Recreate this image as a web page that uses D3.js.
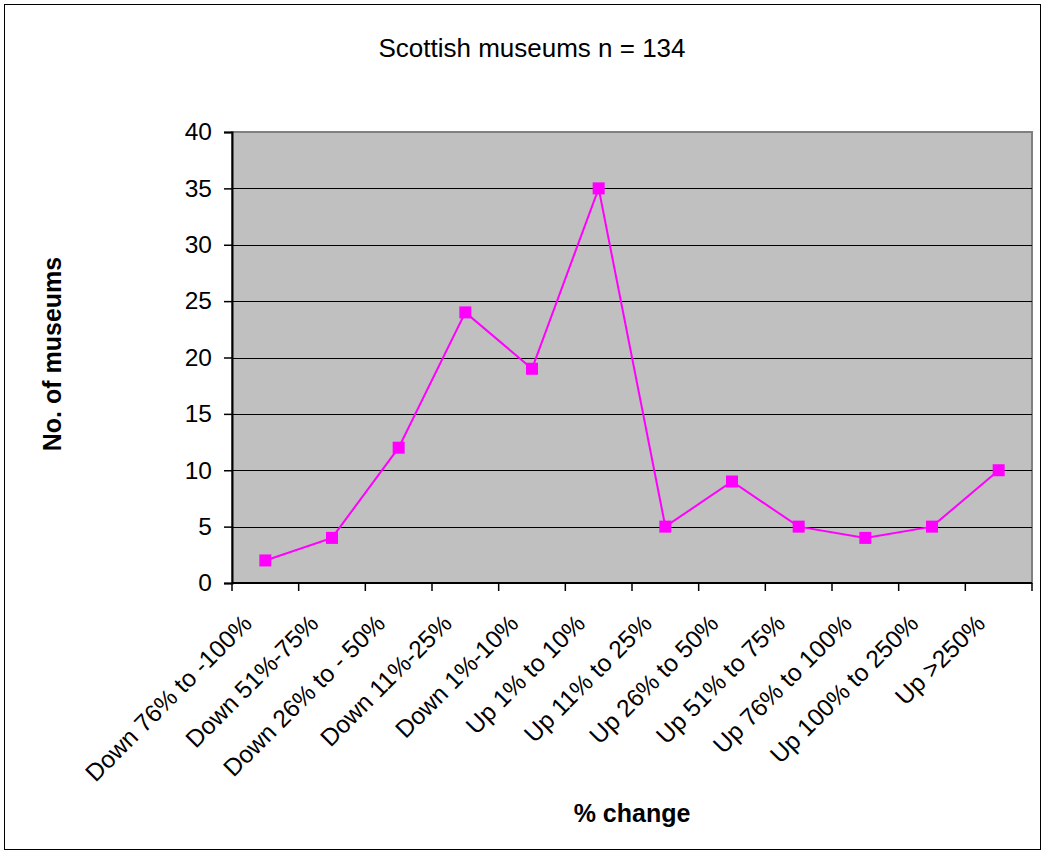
<!DOCTYPE html>
<html>
<head>
<meta charset="utf-8">
<script src="https://cdn.jsdelivr.net/npm/d3@7"></script>
<style>
  body { margin: 0; background: #fff; }
  text { font-family: "Liberation Sans", Arial, sans-serif; }
</style>
</head>
<body>
<svg id="chart" width="1045" height="854"></svg>
<script>
// Change in visitor numbers, grouped by band
const categories = [
  "Down 76% to -100%", "Down 51%-75%", "Down 26% to - 50%", "Down 11%-25%",
  "Down 1%-10%", "Up 1% to 10%", "Up 11% to 25%", "Up 26% to 50%",
  "Up 51% to 75%", "Up 76% to 100%", "Up 100% to 250%", "Up >250%"
];
const museums = [2, 4, 12, 24, 19, 35, 5, 9, 5, 4, 5, 10];
const yTicks = [0, 5, 10, 15, 20, 25, 30, 35, 40];

const svg = d3.select("#chart");
const W = 1045, H = 854;
const plot = { left: 232, top: 132, right: 1032, bottom: 583 };

// outer frame
svg.append("rect")
  .attr("x", 4.5).attr("y", 4.5)
  .attr("width", W - 9).attr("height", H - 9)
  .attr("fill", "#fff").attr("stroke", "#000").attr("stroke-width", 1);

const x = d3.scaleBand().domain(categories).range([plot.left, plot.right]);
const y = d3.scaleLinear().domain([0, 40]).range([plot.bottom, plot.top]);

// plot area
svg.append("rect")
  .attr("x", plot.left).attr("y", plot.top)
  .attr("width", plot.right - plot.left).attr("height", plot.bottom - plot.top)
  .attr("fill", "#c0c0c0").attr("stroke", "#808080").attr("stroke-width", 2);

// gridlines
svg.append("g").selectAll("line")
  .data(yTicks.filter(d => d > 0 && d < 40))
  .join("line")
  .attr("x1", plot.left).attr("x2", plot.right)
  .attr("y1", d => Math.round(y(d)) + 0.5).attr("y2", d => Math.round(y(d)) + 0.5)
  .attr("stroke", "#000").attr("stroke-width", 1);

// y axis
const yAxis = svg.append("g")
  .attr("transform", `translate(${plot.left},0)`)
  .call(d3.axisLeft(y).tickValues(yTicks).tickSize(8).tickPadding(12));
yAxis.select(".domain").attr("stroke", "#000").attr("stroke-width", 2);
yAxis.selectAll(".tick line").attr("stroke", "#000").attr("stroke-width", 1.5);
yAxis.selectAll(".tick text")
  .attr("font-size", 24.5).attr("fill", "#000")
  .style("font-family", '"Liberation Sans", Arial, sans-serif');

// x axis: ticks on category boundaries
const xAxisG = svg.append("g").attr("transform", `translate(0,${plot.bottom})`);
xAxisG.append("line")
  .attr("x1", plot.left).attr("x2", plot.right)
  .attr("y1", 0).attr("y2", 0)
  .attr("stroke", "#000").attr("stroke-width", 2);
const bounds = categories.map(c => x(c)).concat([plot.right]);
xAxisG.selectAll("line.tk")
  .data(bounds)
  .join("line").attr("class", "tk")
  .attr("x1", d => d).attr("x2", d => d)
  .attr("y1", 0).attr("y2", 8)
  .attr("stroke", "#000").attr("stroke-width", 1.5);
xAxisG.selectAll("text")
  .data(categories)
  .join("text")
  .attr("transform", d => `translate(${x(d) + x.bandwidth() / 2 - 12},${42}) rotate(-45)`)
  .attr("text-anchor", "end")
  .attr("font-size", 24.5)
  .attr("fill", "#000")
  .text(d => d);

// series line and markers
const cx = d => x(d) + x.bandwidth() / 2;
const line = d3.line().x((d, i) => cx(categories[i])).y(d => y(d));
svg.append("path")
  .datum(museums)
  .attr("d", line)
  .attr("fill", "none")
  .attr("stroke", "#ff00ff")
  .attr("stroke-width", 2);
svg.append("g").selectAll("rect")
  .data(museums)
  .join("rect")
  .attr("x", (d, i) => cx(categories[i]) - 6)
  .attr("y", d => y(d) - 6)
  .attr("width", 12).attr("height", 12)
  .attr("fill", "#ff00ff");

// titles
svg.append("text")
  .attr("x", 532).attr("y", 57)
  .attr("text-anchor", "middle")
  .attr("font-size", 26)
  .text("Scottish museums n = 134");

svg.append("text")
  .attr("transform", `translate(61,354) rotate(-90)`)
  .attr("text-anchor", "middle")
  .attr("font-size", 25).attr("font-weight", "bold")
  .text("No. of museums");

svg.append("text")
  .attr("x", 632).attr("y", 822)
  .attr("text-anchor", "middle")
  .attr("font-size", 25).attr("font-weight", "bold")
  .text("% change");
</script>
</body>
</html>
